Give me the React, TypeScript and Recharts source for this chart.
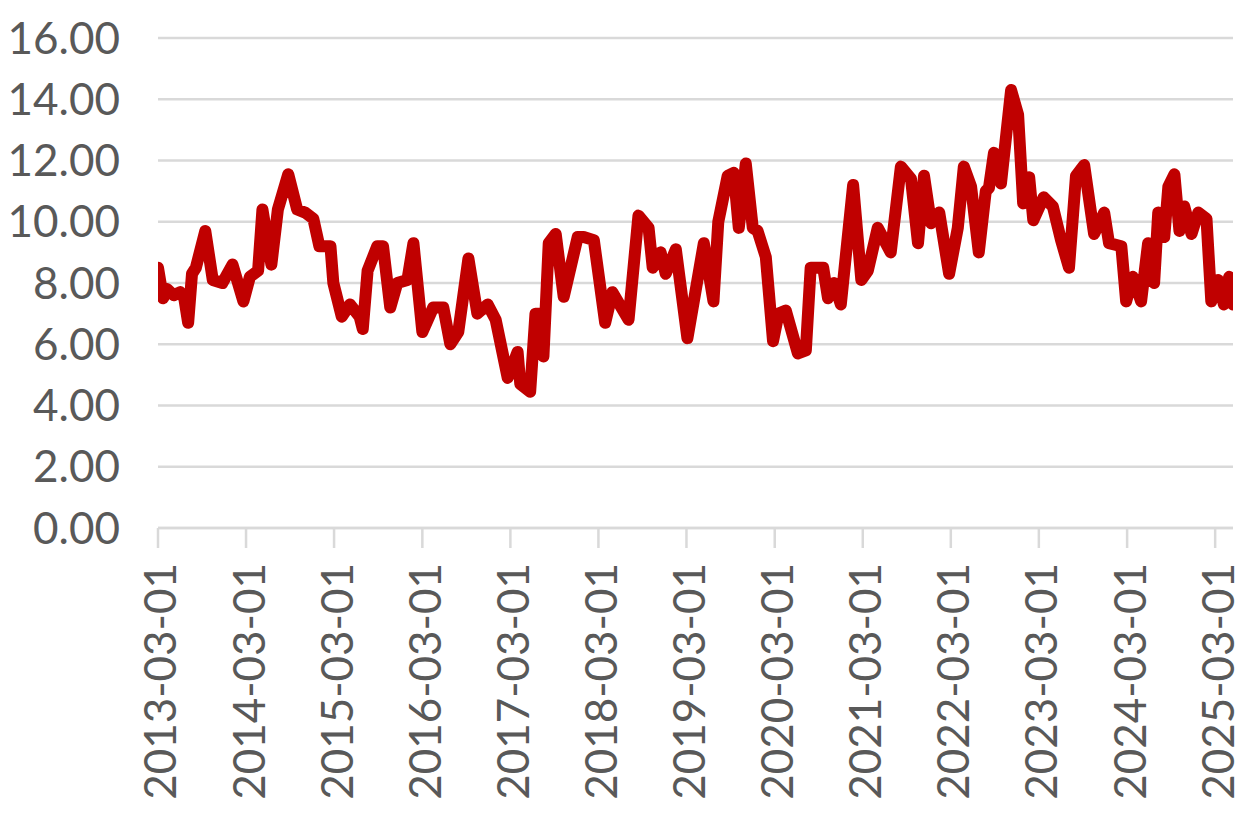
import React from "react";
import { LineChart, Line, XAxis, YAxis, CartesianGrid } from "recharts";

const DATES = [
  "2013-03-01", "2013-03-22", "2013-04-08", "2013-05-05", "2013-06-01", "2013-06-18", "2013-07-04", "2013-07-20",
  "2013-08-05", "2013-09-13", "2013-10-14", "2013-11-23", "2014-01-04", "2014-02-18", "2014-03-17", "2014-04-20",
  "2014-05-08", "2014-06-14", "2014-07-11", "2014-08-23", "2014-09-29", "2014-11-01", "2014-12-05", "2014-12-30",
  "2015-02-14", "2015-02-26", "2015-04-02", "2015-05-06", "2015-06-15", "2015-06-28", "2015-07-18", "2015-08-27",
  "2015-09-20", "2015-10-20", "2015-11-18", "2015-12-30", "2016-01-24", "2016-03-01", "2016-04-15", "2016-05-27",
  "2016-06-25", "2016-07-28", "2016-09-08", "2016-10-15", "2016-11-27", "2016-12-30", "2017-02-18", "2017-03-31",
  "2017-04-11", "2017-05-22", "2017-06-13", "2017-07-04", "2017-07-16", "2017-08-07", "2017-09-05", "2017-10-08",
  "2017-12-05", "2017-12-30", "2018-02-10", "2018-03-29", "2018-04-28", "2018-07-04", "2018-08-14", "2018-09-25",
  "2018-10-12", "2018-11-14", "2018-12-05", "2019-01-16", "2019-03-05", "2019-05-12", "2019-06-21", "2019-07-11",
  "2019-08-19", "2019-09-13", "2019-10-04", "2019-11-02", "2019-12-01", "2019-12-21", "2020-01-24", "2020-02-23",
  "2020-03-17", "2020-04-16", "2020-06-05", "2020-07-08", "2020-07-28", "2020-09-18", "2020-10-08", "2020-11-02",
  "2020-11-30", "2021-01-20", "2021-02-23", "2021-03-22", "2021-05-02", "2021-06-25", "2021-08-06", "2021-09-17",
  "2021-10-16", "2021-11-10", "2021-12-09", "2022-01-12", "2022-02-22", "2022-03-30", "2022-04-24", "2022-05-24",
  "2022-06-25", "2022-07-24", "2022-08-06", "2022-08-27", "2022-09-25", "2022-11-06", "2022-12-05", "2022-12-26",
  "2023-01-20", "2023-02-06", "2023-03-21", "2023-04-28", "2023-06-01", "2023-07-04", "2023-08-02", "2023-09-05",
  "2023-10-16", "2023-11-27", "2023-12-17", "2024-02-06", "2024-02-26", "2024-03-25", "2024-04-28", "2024-05-27",
  "2024-06-21", "2024-07-08", "2024-08-02", "2024-08-19", "2024-09-13", "2024-10-04", "2024-10-24", "2024-11-23",
  "2024-12-21", "2025-01-24", "2025-02-13", "2025-03-13", "2025-04-06", "2025-04-28", "2025-05-14",
];

const VALUES = [
  8.5, 7.5, 7.8, 7.6, 7.7, 7.5, 6.7, 8.3,
  8.5, 9.7, 8.1, 8.0, 8.6, 7.4, 8.2, 8.4,
  10.4, 8.6, 10.4, 11.55, 10.4, 10.3, 10.1, 9.2,
  9.2, 8.0, 6.9, 7.3, 6.9, 6.5, 8.4, 9.2,
  9.2, 7.2, 8.0, 8.1, 9.3, 6.4, 7.2, 7.2,
  6.0, 6.4, 8.8, 7.0, 7.3, 6.8, 4.9, 5.75,
  4.7, 4.45, 7.0, 7.0, 5.6, 9.3, 9.6, 7.55,
  9.5, 9.5, 9.4, 6.7, 7.7, 6.8, 10.2, 9.8,
  8.5, 9.0, 8.3, 9.1, 6.2, 9.3, 7.4, 10.0,
  11.5, 11.6, 9.8, 11.9, 9.8, 9.7, 8.85, 6.1,
  7.0, 7.1, 5.7, 5.8, 8.5, 8.5, 7.5, 8.0,
  7.3, 11.2, 8.1, 8.4, 9.8, 9.0, 11.8, 11.4,
  9.3, 11.5, 9.95, 10.3, 8.3, 9.8, 11.8, 11.15,
  9.0, 11.0, 11.1, 12.25, 11.25, 14.3, 13.5, 10.6,
  11.45, 10.05, 10.8, 10.5, 9.4, 8.5, 11.5, 11.85,
  9.6, 10.3, 9.3, 9.2, 7.4, 8.2, 7.4, 9.3,
  8.0, 10.3, 9.5, 11.15, 11.55, 9.7, 10.5, 9.6,
  10.3, 10.1, 7.4, 8.1, 7.3, 8.2, 7.3,
];

const X_TICK_LABELS = [
  "2013-03-01", "2014-03-01", "2015-03-01", "2016-03-01", "2017-03-01", "2018-03-01", "2019-03-01",
  "2020-03-01", "2021-03-01", "2022-03-01", "2023-03-01", "2024-03-01", "2025-03-01",
];

const Y_TICKS = [0, 2, 4, 6, 8, 10, 12, 14, 16];

const toT = (s: string) => new Date(s + "T00:00:00Z").getTime();
const fmtDate = (t: number) => new Date(t).toISOString().slice(0, 10);

const N = Math.min(DATES.length, VALUES.length);
const data = DATES.slice(0, N).map((d, i) => ({ t: toT(d), v: VALUES[i] }));

const FONT = "Lato, 'Open Sans', sans-serif";
const TEXT_COLOR = "#595959";
const GRID_COLOR = "#d9d9d9";

const XTick = (props: any) => {
  const { x, y, payload } = props;
  return (
    <g transform={`translate(${x},${y})`}>
      <text
        transform="rotate(-90)"
        x={0}
        y={0}
        dy="0.42em"
        textAnchor="end"
        fill={TEXT_COLOR}
        fontSize={44}
        fontFamily={FONT}
      >
        {fmtDate(payload.value)}
      </text>
    </g>
  );
};

export default function App() {
  return (
    <div style={{ position: "absolute", left: 0, top: 0, width: 1245, height: 816, background: "#fff" }}>
      <LineChart
        width={1245}
        height={816}
        data={data}
        margin={{ top: 38, right: 12, left: 0, bottom: 0 }}
      >
        <CartesianGrid vertical={false} stroke={GRID_COLOR} strokeWidth={2.5} />
        <XAxis
          dataKey="t"
          type="number"
          domain={[toT(DATES[0]), toT(DATES[N - 1])]}
          ticks={X_TICK_LABELS.map(toT)}
          interval={0}
          height={288}
          axisLine={{ stroke: GRID_COLOR, strokeWidth: 2.5 }}
          tickLine={{ stroke: GRID_COLOR, strokeWidth: 2.5 }}
          tickSize={20}
          tickMargin={15}
          tick={<XTick />}
          allowDataOverflow
        />
        <YAxis
          type="number"
          domain={[0, 16]}
          ticks={Y_TICKS}
          interval={0}
          width={158}
          axisLine={false}
          tickLine={false}
          tickSize={0}
          tickMargin={38}
          tickFormatter={(v: number) => v.toFixed(2)}
          tick={{ fill: TEXT_COLOR, fontSize: 44, fontFamily: FONT }}
        />
        <Line
          type="linear"
          dataKey="v"
          stroke="#C00000"
          strokeWidth={12}
          strokeLinejoin="round"
          strokeLinecap="round"
          dot={false}
          activeDot={false}
          isAnimationActive={false}
        />
      </LineChart>
    </div>
  );
}
